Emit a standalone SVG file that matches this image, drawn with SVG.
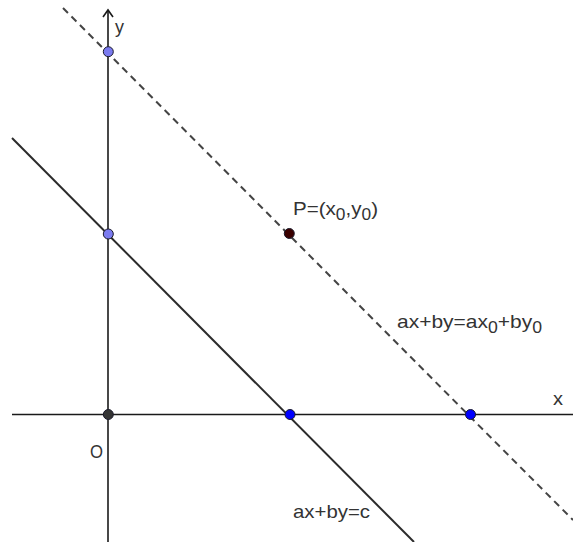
<svg xmlns="http://www.w3.org/2000/svg" width="573" height="542" viewBox="0 0 573 542">
<style>
.axis{stroke:#1a1a1a;stroke-width:1.6;fill:none}
.line{stroke:#2b2b2b;stroke-width:2;fill:none}
.dash{stroke:#444;stroke-width:2;fill:none;stroke-dasharray:7,5}
.lbl{font-family:"Liberation Sans",Arial,sans-serif;font-size:19px;fill:#333}
.sub{font-size:16px}
.pt{stroke:#1a1a2a;stroke-width:1}
</style>
<rect width="573" height="542" fill="#fff"/>
<g id="connectors">
<line class="axis" x1="12" y1="414.5" x2="573" y2="414.5"/>
<line class="axis" x1="108" y1="10" x2="108" y2="542"/>
<polyline class="axis" points="103,17 108,10 113,17"/>
<line class="line" x1="12" y1="138" x2="414" y2="542"/>
<line class="dash" x1="63" y1="8" x2="573" y2="520"/>
</g>
<g id="labels">
<text class="lbl" x="115" y="33" textLength="9" lengthAdjust="spacingAndGlyphs">y</text>
<text class="lbl" x="553" y="405" textLength="10" lengthAdjust="spacingAndGlyphs">x</text>
<text class="lbl" x="90" y="458" textLength="13" lengthAdjust="spacingAndGlyphs">O</text>
<text class="lbl" x="293" y="215" textLength="85" lengthAdjust="spacingAndGlyphs">P=(x<tspan class="sub" dy="5">0</tspan><tspan dy="-5">,y</tspan><tspan class="sub" dy="5">0</tspan><tspan dy="-5">)</tspan></text>
<text class="lbl" x="397" y="328" textLength="145" lengthAdjust="spacingAndGlyphs">ax+by=ax<tspan class="sub" dy="5">0</tspan><tspan dy="-5">+by</tspan><tspan class="sub" dy="5">0</tspan></text>
<text class="lbl" x="293" y="518" textLength="77" lengthAdjust="spacingAndGlyphs">ax+by=c</text>
</g>
<g id="node-origin"><circle class="pt" cx="108.3" cy="414.5" r="5" fill="#333"/></g>
<g id="node-ytop"><circle class="pt" cx="108.3" cy="51.7" r="5" fill="#7b7bf0"/></g>
<g id="node-ymid"><circle class="pt" cx="108.3" cy="234" r="5" fill="#7b7bf0"/></g>
<g id="node-xmid"><circle class="pt" cx="290" cy="414.5" r="5" fill="#0000ff"/></g>
<g id="node-xright"><circle class="pt" cx="470.5" cy="414.5" r="5" fill="#0000ff"/></g>
<g id="node-P"><circle class="pt" cx="289.3" cy="233.5" r="5" fill="#3a0000"/></g>
</svg>
